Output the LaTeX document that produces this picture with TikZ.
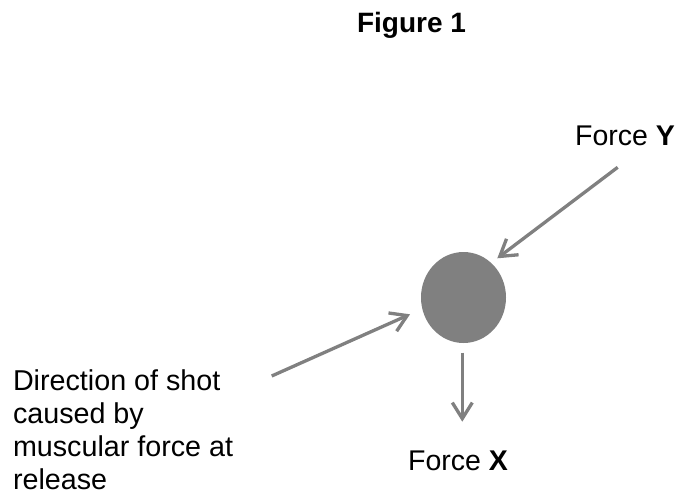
\documentclass[tikz,border=0pt]{standalone}
\usepackage{fontspec}
\setmainfont{Liberation Sans}
\usetikzlibrary{arrows.meta,shapes.geometric}
\definecolor{shotgray}{RGB}{128,128,128}
\begin{document}
\begin{tikzpicture}[x=1pt,y=-1pt,
  lbl/.style={inner sep=0pt,outer sep=0pt,font=\fontsize{28.5}{32.8}\selectfont},
  force/.style={draw=shotgray,line width=3.3pt,
    -{Straight Barb[length=16pt,width=20pt,line width=3.3pt]}}]
\useasboundingbox[fill=white] (0,0) rectangle (680,496);
\node[lbl,anchor=base,font=\fontsize{28}{33}\selectfont\bfseries] (title) at (411.5,32.3) {Figure 1};
\node[draw=none,fill=shotgray,ellipse,minimum width=85pt,minimum height=91pt,inner sep=0pt] (ball) at (463.5,297.5) {};
\node[lbl,anchor=base] (fy) at (625,145) {Force \textbf{Y}};
\node[lbl,anchor=base] (fx) at (458,470) {Force \textbf{X}};
\node[lbl,anchor=north west,align=left,font=\fontsize{28.7}{32.8}\selectfont] (dir) at (13,369.9) {Direction of shot\\caused by\\muscular force at\\release};
\coordinate (ytail) at (617.7,167.3);
\coordinate (yhead) at (497.3,258.3);
\coordinate (dtail) at (271.7,376);
\coordinate (dhead) at (410,314.3);
\coordinate (xtail) at (462.3,352.7);
\coordinate (xhead) at (462.3,421.7);
\draw[force] (ytail) -- (yhead);
\draw[force] (dtail) -- (dhead);
\draw[force] (xtail) -- (xhead);
\end{tikzpicture}
\end{document}
